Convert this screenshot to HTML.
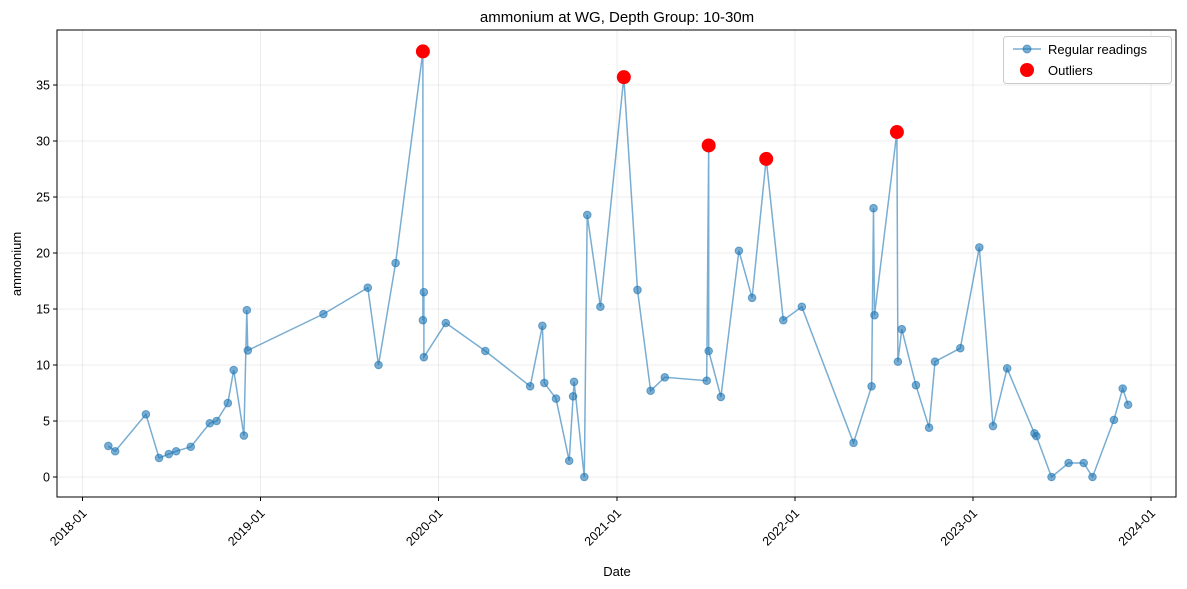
<!DOCTYPE html>
<html><head><meta charset="utf-8"><style>
body{margin:0;background:#fff;}
svg{display:block;font-family:"Liberation Sans","DejaVu Sans",sans-serif;}
</style></head><body>
<svg id="chart" width="1187" height="589" viewBox="0 0 1187 589">
<rect width="1187" height="589" fill="#fff"/>
<text x="617" y="22" text-anchor="middle" font-size="15">ammonium at WG, Depth Group: 10-30m</text>
<g id="grid"></g>
<g id="axes"></g>
<g id="marks"></g>
<text x="617" y="576" text-anchor="middle" font-size="13">Date</text>
<text transform="translate(21,264) rotate(-90)" text-anchor="middle" font-size="13">ammonium</text>
<g>
<rect x="1003.5" y="36.5" width="168" height="47" rx="3" fill="#fff" stroke="#ccc"/>
<line x1="1013" y1="49" x2="1041" y2="49" stroke="#1f77b4" stroke-opacity="0.6" stroke-width="1.5"/>
<circle cx="1027" cy="49" r="4" fill="#1f77b4" fill-opacity="0.6" stroke="#1f77b4" stroke-opacity="0.6"/>
<text x="1048" y="54" font-size="13">Regular readings</text>
<circle cx="1027" cy="70" r="7" fill="#ff0000"/>
<text x="1048" y="75" font-size="13">Outliers</text>
</g>
</svg>
<script>
const dates=["2018-02-23","2018-03-09","2018-05-11","2018-06-07","2018-06-27","2018-07-12","2018-08-11","2018-09-19","2018-10-03","2018-10-26","2018-11-07","2018-11-28","2018-12-04","2018-12-06","2019-05-10","2019-08-09","2019-08-31","2019-10-05","2019-11-30","2019-11-30","2019-12-02","2019-12-02","2020-01-16","2020-04-06","2020-07-07","2020-08-01","2020-08-05","2020-08-29","2020-09-25","2020-10-03","2020-10-05","2020-10-26","2020-11-01","2020-11-28","2021-01-15","2021-02-12","2021-03-11","2021-04-09","2021-07-04","2021-07-08","2021-07-08","2021-08-02","2021-09-08","2021-10-05","2021-11-03","2021-12-08","2022-01-15","2022-05-01","2022-06-07","2022-06-11","2022-06-13","2022-07-29","2022-07-31","2022-08-08","2022-09-06","2022-10-03","2022-10-15","2022-12-06","2023-01-14","2023-02-11","2023-03-12","2023-05-07","2023-05-11","2023-06-11","2023-07-16","2023-08-16","2023-09-03","2023-10-17","2023-11-04","2023-11-15"];
const values=[2.77,2.3,5.6,1.7,2.05,2.3,2.7,4.8,5.0,6.6,9.55,3.7,14.9,11.3,14.55,16.9,10.0,19.1,38.0,14.0,16.5,10.7,13.75,11.25,8.1,13.5,8.4,7.0,1.45,7.2,8.5,0,23.4,15.2,35.7,16.7,7.7,8.9,8.6,29.6,11.25,7.15,20.2,16.0,28.4,14.0,15.2,3.05,8.1,24.0,14.45,30.8,10.3,13.2,8.2,4.4,10.3,11.5,20.5,4.55,9.7,3.9,3.65,0,1.25,1.25,0,5.1,7.9,6.45];
const outlierDates=["2019-11-30","2021-01-15","2021-07-08","2021-11-03","2022-07-29"];
const outlierValues=[38.0,35.7,29.6,28.4,30.8];
const xTicks=["2018-01","2019-01","2020-01","2021-01","2022-01","2023-01","2024-01"];
const yTicks=[0,5,10,15,20,25,30,35];

const NS="http://www.w3.org/2000/svg";
const L=57,R=1176,T=30,B=497;
const t0=Date.UTC(2018,0,1),t1=Date.UTC(2024,0,1);
function dt(s){const p=s.split("-").map(Number);return Date.UTC(p[0],p[1]-1,p[2]||1);}
function xs(s){return 82.5+(dt(s)-t0)/(t1-t0)*(1151-82.5);}
function ys(v){return 477-v*11.2;}
function mk(tag,attrs,parent){const e=document.createElementNS(NS,tag);for(const k in attrs)e.setAttribute(k,attrs[k]);parent.appendChild(e);return e;}
const grid=document.getElementById("grid"),axes=document.getElementById("axes"),marks=document.getElementById("marks");
xTicks.forEach(t=>{const x=xs(t);
 const g=mk("line",{x1:x,x2:x,y1:T,y2:B,stroke:"#b0b0b0","stroke-opacity":0.3,"stroke-width":0.8},grid);
 
 
 mk("line",{x1:x,x2:x,y1:B,y2:B+4,stroke:"#000"},axes);
 const tx=mk("text",{x:x+5,y:B+17,"text-anchor":"end","font-size":12.5,transform:`rotate(-45 ${x+5} ${B+17})`},axes);
 tx.textContent=t;
 
 
});
yTicks.forEach(v=>{const y=ys(v);
 const g=mk("line",{x1:L,x2:R,y1:y,y2:y,stroke:"#b0b0b0","stroke-opacity":0.3,"stroke-width":0.8},grid);
 
 
 mk("line",{x1:L-4,x2:L,y1:y,y2:y,stroke:"#000"},axes);
 const tx=mk("text",{x:L-7,y:y+4.5,"text-anchor":"end","font-size":12.5},axes);
 tx.textContent=v;
 
 
});
const frame=mk("rect",{x:L,y:T,width:R-L,height:B-T,fill:"none",stroke:"#000","stroke-width":1},axes);


const pts=dates.map((d,i)=>xs(d).toFixed(1)+","+ys(values[i]).toFixed(1)).join(" ");
const line=mk("polyline",{points:pts,fill:"none",stroke:"#1f77b4","stroke-opacity":0.6,"stroke-width":1.5},marks);


dates.forEach((d,i)=>{
 const c=mk("circle",{cx:xs(d),cy:ys(values[i]),r:3.8,fill:"#1f77b4","fill-opacity":0.6,stroke:"#1f77b4","stroke-opacity":0.6,"stroke-width":1},marks);
 
 
});
outlierDates.forEach((d,i)=>{
 const c=mk("circle",{cx:xs(d),cy:ys(outlierValues[i]),r:7,fill:"#ff0000"},marks);
 
 
});
</script>
</body></html>
